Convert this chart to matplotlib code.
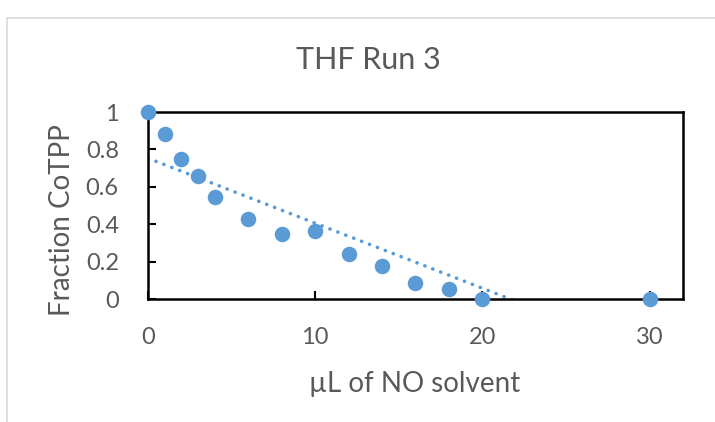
import matplotlib.pyplot as plt
from matplotlib.patches import Rectangle
import numpy as np

plt.rcParams['font.family'] = ['Lato', 'DejaVu Sans']

# data
vol = [0, 1, 2, 3, 4, 6, 8, 10, 12, 14, 16, 18, 20, 30]
frac = [1.0, 0.88, 0.75, 0.66, 0.545, 0.43, 0.35, 0.365, 0.24, 0.175, 0.087, 0.053, 0.0, 0.0]
xticks = [0, 10, 20, 30]
yticks = [0, 0.2, 0.4, 0.6, 0.8, 1]
ylabels = ['0', '0.2', '0.4', '0.6', '0.8', '1']

blue = '#5B9BD5'
grey = '#595959'
W, H = 715, 422

fig = plt.figure(figsize=(7.15, 4.22), dpi=100)
ax = fig.add_axes([148/W, 1 - 299/H, (683-148)/W, (299-112)/H])

# outer chart border (partly cut off in the original)
fig.patches.append(Rectangle((7/W, -0.1), 1.2, 1 - 18/H + 0.1, transform=fig.transFigure,
                             fill=False, edgecolor='#D9D9D9', lw=1.2))

# linear trendline
k, b = np.polyfit(vol, frac, 1)
xx = np.array([min(vol), max(vol)])
ax.plot(xx, k*xx + b, color=blue, lw=2.6, linestyle=(0, (0.05, 2.3)), dash_capstyle='round')

ax.scatter(vol, frac, s=125, color=blue, zorder=3, clip_on=False, linewidths=0)

ax.set_xlim(0, 32)
ax.set_ylim(0, 1)
ax.set_xticks(xticks)
ax.set_yticks(yticks)
ax.set_yticklabels(ylabels)
for s in ax.spines.values():
    s.set_color('black')
    s.set_linewidth(1.8)
ax.tick_params(direction='in', length=6, width=1.5, colors='black', labelcolor=grey, labelsize=17)
ax.tick_params(axis='x', pad=20)
ax.tick_params(axis='y', pad=21)

fig.text(368/W, 1 - 60/H, 'THF Run 3', fontsize=22, color=grey, ha='center', va='center')
fig.text(415/W, 1 - 384/H, 'µL of NO solvent', fontsize=20, color=grey, ha='center', va='center')
fig.text(62/W, 1 - 220/H, 'Fraction CoTPP', fontsize=20, color=grey, ha='center', va='center',
         rotation=90)

fig.savefig('out.png', dpi=100)
